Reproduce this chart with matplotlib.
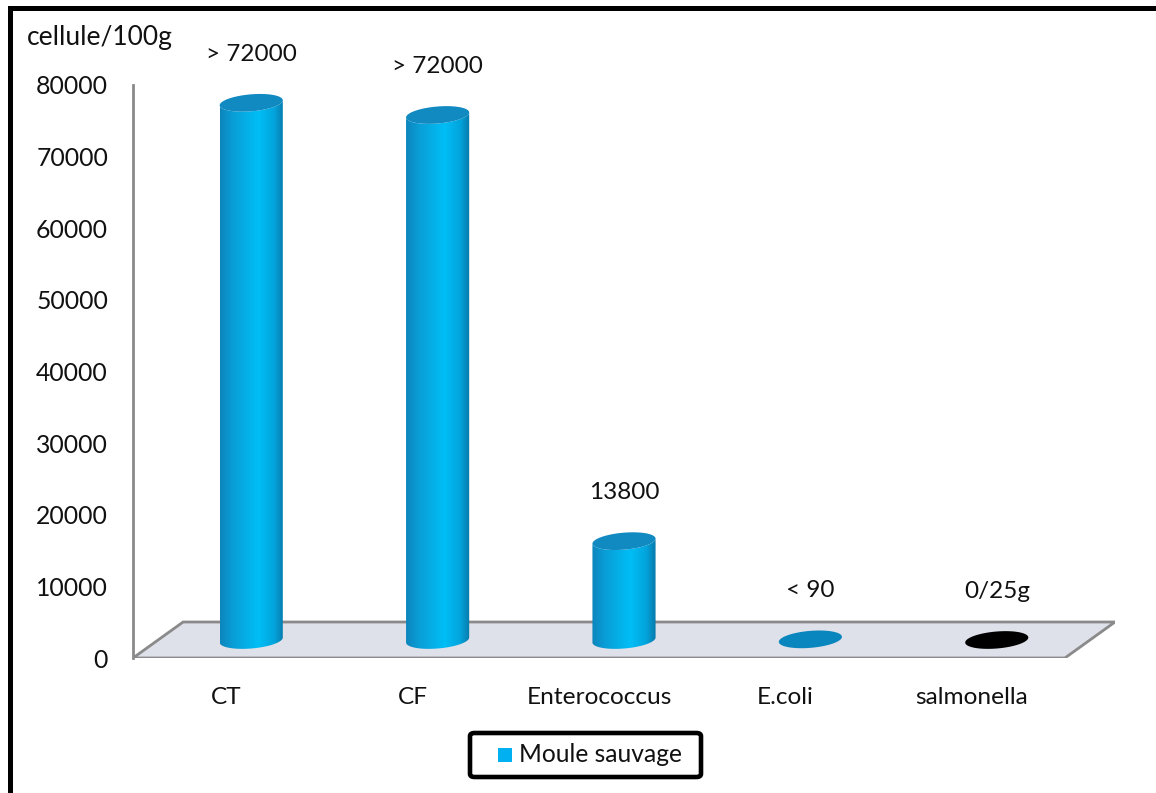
import numpy as np
import matplotlib
matplotlib.use("Agg")
import matplotlib.pyplot as plt
from matplotlib.patches import Polygon, Rectangle, FancyBboxPatch
from matplotlib.colors import LinearSegmentedColormap

# data
categories = ["CT", "CF", "Enterococcus", "E.coli", "salmonella"]
values = [75000, 73300, 13800, 90, 0]
value_labels = ["> 72000", "> 72000", "13800", "< 90", "0/25g"]
top_colors = ["#1189C1", "#1189C1", "#1189C1", "#0A86BE", "#000000"]
yticks = [0, 10000, 20000, 30000, 40000, 50000, 60000, 70000, 80000]
series_name = "Moule sauvage"
y_title = "cellule/100g"

plt.rcParams['font.family'] = ['Lato', 'DejaVu Sans']

W, H = 1156, 793
fig = plt.figure(figsize=(W / 100, H / 100), dpi=100)

# front plane of the 3d box: x 133..1115 px, y 658 (0) .. 85 (80000) px
ax = fig.add_axes([133 / W, (H - 658) / H, (1115 - 133) / W, (658 - 85) / H])
xpx = 186.0                 # pixels per category
ypx = 573.0 / 80000         # pixels per unit
x0, x1 = -0.5, 4.5 + 50 / xpx
y0, y1 = 0, 80000

# depth of the floor (oblique projection) and of the bars (half way)
DX, DY = 50 / xpx, 36 / ypx
BX, BY = DX / 2, DY / 2
# cylinder shape
a = 31.5 / xpx
b = 8.5 / ypx
s = 2.5 / ypx

# floor
floor = Polygon([(x0, 0), (4.5, 0), (4.5 + DX, DY), (x0 + DX, DY)], closed=True,
                facecolor="#DEE0EA", edgecolor="#8A8A8A", lw=2, zorder=1)
ax.add_patch(floor)

cmap = LinearSegmentedColormap.from_list(
    "cyl", [(0, "#0C85BC"), (0.2, "#0A9DD6"), (0.6, "#00BEF6"),
            (0.85, "#03A4DC"), (1, "#0879AA")])
grad = np.linspace(0, 1, 256).reshape(1, -1)


def ellipse(xc, yc, t):
    return xc + a * np.cos(t), yc + b * np.sin(t) + s * np.cos(t)


for i, v in enumerate(values):
    xc = i + BX
    yb = BY
    yt = v + BY
    if v > 500:
        t = np.linspace(np.pi, 2 * np.pi, 60)
        bx, by = ellipse(xc, yb, t)
        tx, ty = ellipse(xc, yt, t[::-1])
        pts = np.vstack([np.column_stack([bx, by]), np.column_stack([tx, ty])])
        body = Polygon(pts, closed=True, facecolor="none", edgecolor="none", zorder=3)
        ax.add_patch(body)
        im = ax.imshow(grad, cmap=cmap, aspect="auto", zorder=3,
                       extent=[xc - a, xc + a, yb - b - s, yt + b + s],
                       interpolation="bilinear")
        im.set_clip_path(body)
    t = np.linspace(0, 2 * np.pi, 120)
    ex, ey = ellipse(xc, yt, t)
    ax.add_patch(Polygon(np.column_stack([ex, ey]), closed=True,
                         facecolor=top_colors[i], edgecolor="none", zorder=4))
    ax.annotate(value_labels[i], (xc, yt + b), xytext=(0, 29),
                textcoords="offset points", ha="center", va="center",
                fontsize=17.5, color="#111111", annotation_clip=False)

ax.set_xlim(x0, x1)
ax.set_ylim(y0, y1)
for side in ["top", "right", "bottom"]:
    ax.spines[side].set_visible(False)
ax.spines["left"].set_color("#8A8A8A")
ax.spines["left"].set_linewidth(2)
ax.set_yticks(yticks)
ax.set_yticklabels([str(y) for y in yticks])
ax.set_xticks(range(len(categories)))
ax.set_xticklabels(categories)
ax.tick_params(axis="y", length=0, pad=18, labelsize=17.8, labelcolor="#111111")
ax.tick_params(axis="x", length=0, pad=21, labelsize=17.6, labelcolor="#111111")
ax.patch.set_visible(False)

fig.text(27 / W, (H - 38) / H, y_title, va="center", ha="left", fontsize=19,
         color="#111111")

# legend box
fig.patches.append(FancyBboxPatch((470 / W, (H - 777) / H), 231 / W, 44 / H,
                                  boxstyle="round,pad=0,rounding_size=0.004",
                                  transform=fig.transFigure, facecolor="white",
                                  edgecolor="black", lw=3.3))
fig.patches.append(Rectangle((498 / W, (H - 762) / H), 14 / W, 14 / H,
                             transform=fig.transFigure, facecolor="#00B0F0",
                             edgecolor="none"))
fig.text(519 / W, (H - 755) / H, series_name, va="center", ha="left",
         fontsize=17.7, color="#111111")

# outer frame (only left and top edges fall inside the picture)
fig.patches.append(Rectangle((9.5 / W, -0.2), 1.5, (H - 7.5) / H + 0.2,
                             transform=fig.transFigure, fill=False,
                             lw=3.6, edgecolor="black"))

fig.savefig("out.png", dpi=100)
